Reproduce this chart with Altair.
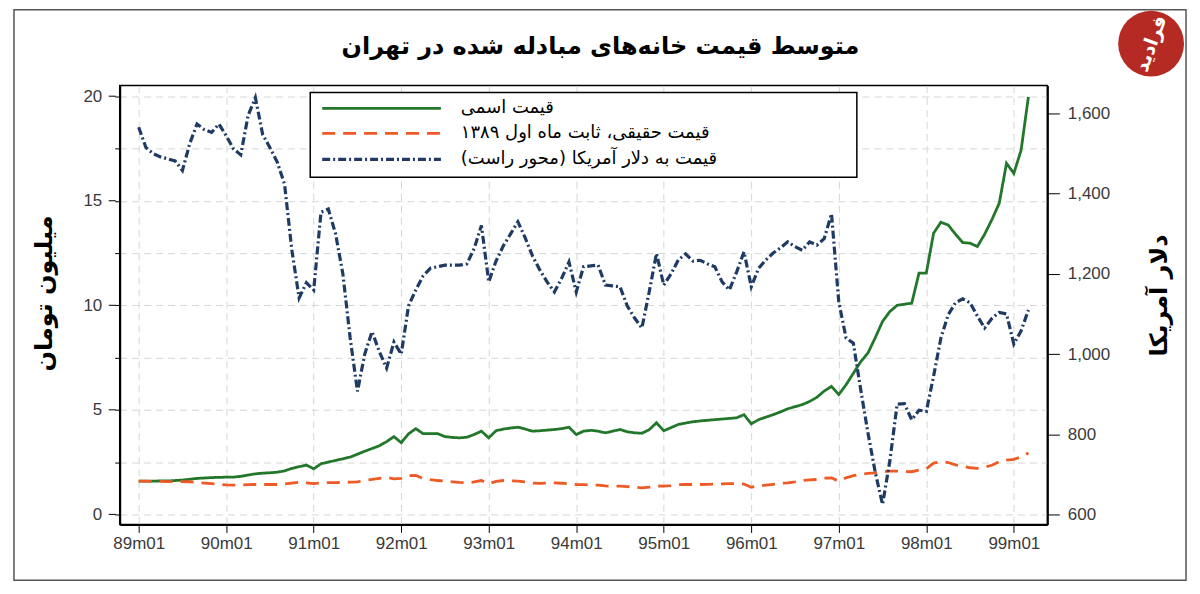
import altair as alt
import pandas as pd

# ---------------- data ----------------
n_months = 123  # 89m01 .. 99m03
periods = [f"{89 + i // 12}m{i % 12 + 1:02d}" for i in range(n_months)]

nominal = [
    1.59, 1.59, 1.59, 1.60, 1.60, 1.62, 1.64, 1.68, 1.72, 1.74,
    1.76, 1.77, 1.78, 1.78, 1.82, 1.88, 1.94, 1.97, 1.99, 2.02,
    2.08, 2.20, 2.28, 2.36, 2.18, 2.42, 2.50, 2.58, 2.66, 2.74,
    2.88, 3.02, 3.15, 3.28, 3.48, 3.72, 3.43, 3.85, 4.10, 3.86,
    3.86, 3.86, 3.72, 3.68, 3.66, 3.69, 3.82, 3.98, 3.66, 4.00,
    4.08, 4.13, 4.17, 4.08, 3.98, 4.00, 4.03, 4.06, 4.10, 4.17,
    3.82, 3.98, 4.02, 3.98, 3.90, 3.98, 4.06, 3.95, 3.90, 3.88,
    4.05, 4.38, 4.00, 4.15, 4.30, 4.37, 4.43, 4.47, 4.50, 4.53,
    4.56, 4.59, 4.62, 4.77, 4.33, 4.53, 4.65, 4.77, 4.90, 5.05,
    5.15, 5.25, 5.40, 5.60, 5.90, 6.12, 5.73, 6.20, 6.75, 7.30,
    7.72, 8.45, 9.23, 9.70, 10.00, 10.05, 10.10, 11.54, 11.54, 13.45,
    13.97, 13.84, 13.40, 13.00, 12.97, 12.81, 13.40, 14.10, 14.88, 16.79,
    16.31, 17.42, 19.97,
]

real = [
    1.59, 1.59, 1.58, 1.58, 1.57, 1.57, 1.57, 1.56, 1.53, 1.50,
    1.47, 1.44, 1.41, 1.40, 1.41, 1.42, 1.43, 1.43, 1.43, 1.43,
    1.46, 1.50, 1.54, 1.51, 1.47, 1.50, 1.52, 1.52, 1.53, 1.54,
    1.55, 1.63, 1.67, 1.72, 1.77, 1.70, 1.72, 1.85, 1.86, 1.72,
    1.66, 1.62, 1.59, 1.56, 1.53, 1.51, 1.55, 1.62, 1.46, 1.58,
    1.62, 1.60, 1.59, 1.55, 1.50, 1.48, 1.50, 1.51, 1.49, 1.46,
    1.43, 1.42, 1.41, 1.40, 1.36, 1.35, 1.35, 1.33, 1.30, 1.27,
    1.30, 1.36, 1.35, 1.38, 1.42, 1.43, 1.43, 1.43, 1.44, 1.45,
    1.46, 1.47, 1.47, 1.45, 1.30, 1.36, 1.40, 1.44, 1.48, 1.51,
    1.56, 1.62, 1.65, 1.67, 1.73, 1.75, 1.58, 1.75, 1.85, 1.92,
    1.96, 1.99, 2.03, 2.07, 2.07, 2.05, 2.04, 2.12, 2.18, 2.45,
    2.52, 2.48, 2.37, 2.30, 2.23, 2.20, 2.26, 2.35, 2.52, 2.60,
    2.63, 2.75, 2.94,
]

usd = [
    1566, 1515, 1500, 1492, 1487, 1482, 1458, 1525, 1574, 1560,
    1553, 1574, 1545, 1512, 1497, 1595, 1640, 1548, 1515, 1479,
    1424, 1260, 1140, 1178, 1160, 1354, 1362, 1300, 1200, 1040,
    907, 1000, 1056, 1006, 965, 1030, 1000, 1120, 1160, 1195,
    1214, 1218, 1222, 1222, 1222, 1225, 1263, 1321, 1180, 1232,
    1270, 1300, 1330, 1290, 1245, 1210, 1180, 1155, 1189, 1230,
    1155, 1218, 1220, 1222, 1172, 1170, 1168, 1120, 1090, 1065,
    1155, 1251, 1172, 1200, 1235, 1250, 1232, 1234, 1225, 1218,
    1180, 1160, 1205, 1255, 1168, 1214, 1235, 1252, 1265, 1280,
    1268, 1259, 1280, 1272, 1288, 1350, 1130, 1040, 1027, 912,
    803, 705, 625, 733, 875, 876, 836, 860, 857, 945,
    1040, 1098, 1128, 1138, 1128, 1095, 1065, 1089, 1104, 1100,
    1025, 1058, 1110,
]

year_ticks = [0, 12, 24, 36, 48, 60, 72, 84, 96, 108, 120]
year_labels = ["89m01", "90m01", "91m01", "92m01", "93m01", "94m01",
               "95m01", "96m01", "97m01", "98m01", "99m01"]
left_ticks = [0, 2.5, 5, 7.5, 10, 12.5, 15, 17.5, 20]
left_major = [0, 5, 10, 15, 20]
right_ticks = [600, 800, 1000, 1200, 1400, 1600]

series_names = ["nominal", "real"]
legend_labels = [
    "قیمت اسمی",
    "قیمت حقیقی، ثابت ماه اول ۱۳۸۹",
    "قیمت به دلار آمریکا (محور راست)\u200f",
]
title_text = "متوسط قیمت خانه\u200cهای مبادله شده در تهران"
left_title = "میلیون تومان"
right_title = "دلار آمریکا"
logo_text = "فرادید"

# ---------------- styles ----------------
GREEN = "#22772b"
ORANGE = "#ee5a26"
BLUE = "#1f3b63"
GRID = "#d6d6d6"
FA_FONT = "DejaVu Sans"
NUM_FONT = "Liberation Sans"
LBL_COLOR = "#3a3a3a"
ORANGE_DASH = [13, 8]
BLUE_DASH = [8, 3, 2, 3]

df = pd.DataFrame({"t": list(range(n_months)), "period": periods,
                   "nominal": nominal, "real": real, "usd": usd})

x_scale = alt.Scale(domain=[-2.6, 124.6], nice=False, zero=False)
left_scale = alt.Scale(domain=[-0.48, 20.51], nice=False, zero=False)
right_scale = alt.Scale(domain=[575, 1670], nice=False, zero=False)

label_expr = "[" + ",".join(f"'{s}'" for s in year_labels) + "][round(datum.value/12)]"

x_axis = alt.Axis(values=year_ticks, labelExpr=label_expr, title=None,
                  grid=True, gridColor=GRID, gridDash=[7, 5], gridWidth=1,
                  tickSize=8, tickColor="black", labelPadding=3,
                  labelFont=NUM_FONT, labelFontSize=17, labelColor=LBL_COLOR,
                  domainColor="black", domainWidth=2)

left_axis = alt.Axis(values=left_ticks, orient="left",
                     labelExpr="datum.value % 5 === 0 ? datum.label : ''",
                     grid=True, gridColor=GRID, gridDash=[7, 5], gridWidth=1,
                     tickSize=5, tickColor="black", labelPadding=13,
                     labelFont=NUM_FONT, labelFontSize=17, labelColor=LBL_COLOR,
                     domainColor="black", domainWidth=2,
                     title=left_title, titleFont=FA_FONT, titleFontSize=24,
                     titleFontWeight="bold", titleColor="black",
                     titleAngle=270, titleX=-75, titleY=208,
                     titleAlign="center", titleBaseline="middle")

right_axis = alt.Axis(values=right_ticks, orient="right", format=",.0f",
                      grid=False, tickSize=12, tickColor="black", labelPadding=8,
                      labelFont=NUM_FONT, labelFontSize=17, labelColor=LBL_COLOR,
                      domainColor="black", domainWidth=2,
                      title=right_title, titleFont=FA_FONT, titleFontSize=24,
                      titleFontWeight="bold", titleColor="black",
                      titleAngle=270, titleX=112, titleY=210,
                      titleAlign="center", titleBaseline="middle")

base = alt.Chart(df)

left_lines = base.transform_fold(series_names, as_=["series", "value"]).mark_line(
    strokeWidth=2.8
).encode(
    x=alt.X("t:Q", scale=x_scale, axis=x_axis),
    y=alt.Y("value:Q", scale=left_scale, axis=left_axis),
    color=alt.Color("series:N", scale=alt.Scale(domain=series_names, range=[GREEN, ORANGE]), legend=None),
    strokeDash=alt.StrokeDash("series:N", scale=alt.Scale(domain=series_names, range=[[1, 0], ORANGE_DASH]), legend=None),
    order=alt.Order("t:Q"),
)

major_ticks = alt.Chart(pd.DataFrame({"v": left_major})).mark_rule(
    color="black", strokeWidth=1, clip=False
).encode(
    y=alt.Y("v:Q", scale=left_scale, axis=None),
    x=alt.value(-11), x2=alt.value(-4),
)

usd_line = base.mark_line(color=BLUE, strokeWidth=3.2, strokeDash=BLUE_DASH).encode(
    x=alt.X("t:Q", scale=x_scale, axis=x_axis),
    y=alt.Y("usd:Q", scale=right_scale, axis=right_axis),
)

one = alt.Data(values=[{"a": 1}])

legend_box = alt.Chart(one).mark_rect(fill="white", stroke="black", strokeWidth=1.5).encode(
    x=alt.value(191), x2=alt.value(739), y=alt.value(7), y2=alt.value(92))

legend_rows_y = [23, 48, 74]
legend_styles = [
    dict(color=GREEN, strokeWidth=2.8),
    dict(color=ORANGE, strokeWidth=2.8, strokeDash=ORANGE_DASH),
    dict(color=BLUE, strokeWidth=3.2, strokeDash=BLUE_DASH),
]
legend_layers = []
for yy, lab, sty in zip(legend_rows_y, legend_labels, legend_styles):
    legend_layers.append(alt.Chart(one).mark_rule(**sty).encode(
        x=alt.value(203), x2=alt.value(322), y=alt.value(yy)))
    legend_layers.append(alt.Chart(one).mark_text(
        text=lab, font=FA_FONT, fontSize=18, color="black", align="left", baseline="middle"
    ).encode(x=alt.value(342), y=alt.value(yy)))

title_layer = alt.Chart(one).mark_text(
    text=title_text, font=FA_FONT, fontSize=24, fontWeight="bold", color="black",
    align="center", baseline="middle"
).encode(x=alt.value(482), y=alt.value(-39))

frame = alt.Chart(one).mark_rect(fillOpacity=0, stroke="#555555", strokeWidth=1.5, clip=False).encode(
    x=alt.value(-106), x2=alt.value(1069), y=alt.value(-76), y2=alt.value(496))

logo_circle = alt.Chart(one).mark_point(shape="circle", filled=True, fill="#b52a22",
                                         opacity=1, size=4356, strokeWidth=0).encode(
    x=alt.value(1034), y=alt.value(-42))
logo_txt = alt.Chart(one).mark_text(text=logo_text, font=FA_FONT, fontSize=19, fontWeight="bold",
                                    color="white", align="center", baseline="middle", angle=290).encode(
    x=alt.value(1034), y=alt.value(-42))

chart = alt.layer(
    left_lines, major_ticks, usd_line, legend_box, *legend_layers,
    title_layer, frame, logo_circle, logo_txt
).resolve_scale(
    y="independent"
).properties(
    width=930, height=440,
    padding={"left": 112, "top": 77, "right": 145, "bottom": 60},
    autosize=alt.AutoSizeParams(type="none"),
    background="white",
).configure_view(stroke="black", strokeWidth=1.5)

chart.save("out.html", embed_options={"renderer": "svg", "actions": False})
